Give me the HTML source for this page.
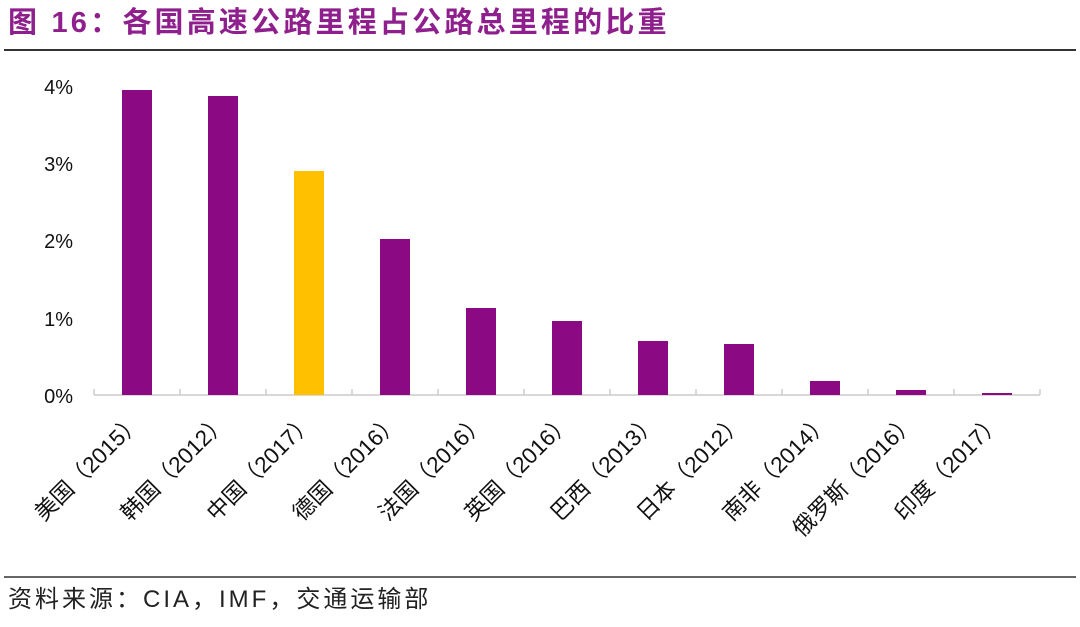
<!DOCTYPE html>
<html><head><meta charset="utf-8"><style>
body{margin:0;background:#fff;}
svg text{font-family:"Liberation Sans","Noto Sans CJK SC",sans-serif;}
</style></head><body>
<svg width="1080" height="622" viewBox="0 0 1080 622" xmlns="http://www.w3.org/2000/svg">
<text x="8" y="32" font-size="29" font-weight="bold" fill="#8E1F8C" letter-spacing="3.2">图 16：各国高速公路里程占公路总里程的比重</text>
<line x1="4" y1="50" x2="1076" y2="50" stroke="#333" stroke-width="2"/>
<g font-size="20" fill="#111" text-anchor="end">
<text x="73" y="94">4%</text>
<text x="73" y="171">3%</text>
<text x="73" y="248">2%</text>
<text x="73" y="326">1%</text>
<text x="73" y="403">0%</text>
</g>
<line x1="94" y1="395" x2="1040" y2="395" stroke="#ccc" stroke-width="1.5"/>
<g stroke="#ccc" stroke-width="1.5">
<line x1="94" y1="395" x2="94" y2="389"/><line x1="180" y1="395" x2="180" y2="389"/><line x1="266" y1="395" x2="266" y2="389"/><line x1="352" y1="395" x2="352" y2="389"/><line x1="438" y1="395" x2="438" y2="389"/><line x1="524" y1="395" x2="524" y2="389"/><line x1="610" y1="395" x2="610" y2="389"/><line x1="696" y1="395" x2="696" y2="389"/><line x1="782" y1="395" x2="782" y2="389"/><line x1="868" y1="395" x2="868" y2="389"/><line x1="954" y1="395" x2="954" y2="389"/><line x1="1040" y1="395" x2="1040" y2="389"/>
</g>
<g fill="#8B0A84">
<rect x="122" y="90" width="30" height="305"/>
<rect x="208" y="96" width="30" height="299"/>
<rect x="294" y="171" width="30" height="224" fill="#FFC000"/>
<rect x="380" y="239" width="30" height="156"/>
<rect x="466" y="308" width="30" height="87"/>
<rect x="552" y="321" width="30" height="74"/>
<rect x="638" y="341" width="30" height="54"/>
<rect x="724" y="344" width="30" height="51"/>
<rect x="810" y="381" width="30" height="14"/>
<rect x="896" y="390" width="30" height="5"/>
<rect x="982" y="393" width="30" height="2"/>
</g>
<g font-size="22.5" fill="#111" text-anchor="end">
<text transform="translate(143,423) rotate(-45)">美国（2015）</text>
<text transform="translate(229,423) rotate(-45)">韩国（2012）</text>
<text transform="translate(315,423) rotate(-45)">中国（2017）</text>
<text transform="translate(401,423) rotate(-45)">德国（2016）</text>
<text transform="translate(487,423) rotate(-45)">法国（2016）</text>
<text transform="translate(573,423) rotate(-45)">英国（2016）</text>
<text transform="translate(659,423) rotate(-45)">巴西（2013）</text>
<text transform="translate(745,423) rotate(-45)">日本（2012）</text>
<text transform="translate(831,423) rotate(-45)">南非（2014）</text>
<text transform="translate(917,423) rotate(-45)">俄罗斯（2016）</text>
<text transform="translate(1003,423) rotate(-45)">印度（2017）</text>
</g>
<line x1="4" y1="577" x2="1076" y2="577" stroke="#333" stroke-width="1.5"/>
<text x="8" y="607" font-size="24" fill="#222" letter-spacing="3">资料来源：CIA，IMF，交通运输部</text>
</svg>
</body></html>
